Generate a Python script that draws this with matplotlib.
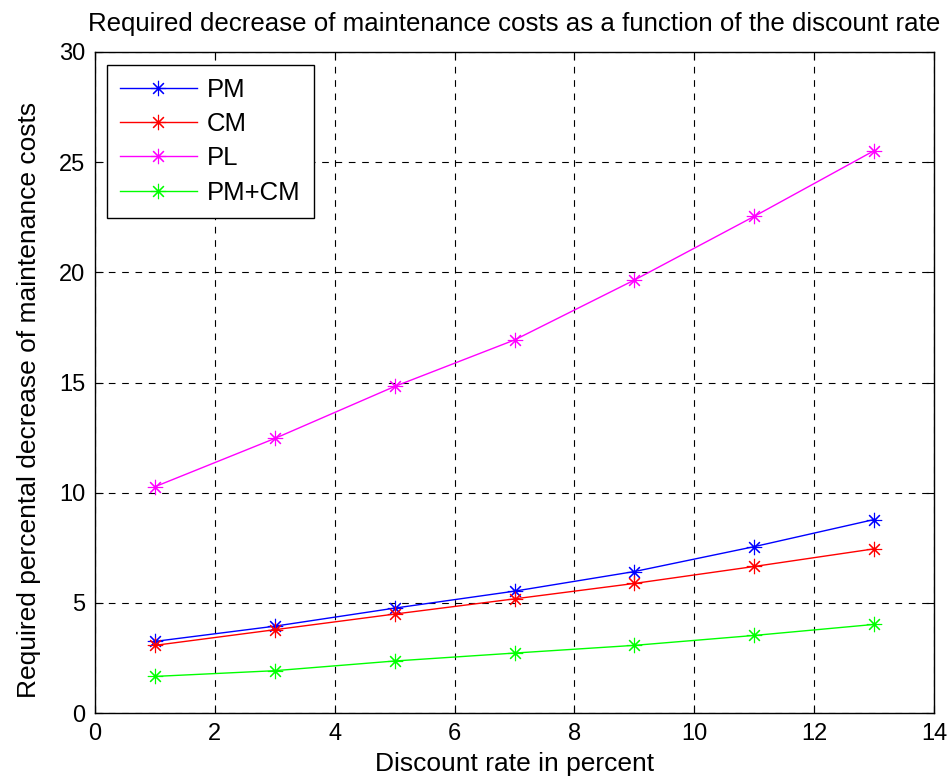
import matplotlib
matplotlib.use("Agg")
import matplotlib.pyplot as plt

rate = [1, 3, 5, 7, 9, 11, 13]
pm = [3.25, 3.94, 4.76, 5.53, 6.42, 7.55, 8.78]
cm = [3.07, 3.78, 4.49, 5.18, 5.88, 6.65, 7.45]
pl = [10.27, 12.46, 14.82, 16.93, 19.65, 22.54, 25.52]
pmcm = [1.66, 1.92, 2.36, 2.72, 3.07, 3.52, 4.02]
series_names = ["PM", "CM", "PL", "PM+CM"]
xticks = [0, 2, 4, 6, 8, 10, 12, 14]
yticks = [0, 5, 10, 15, 20, 25, 30]

plt.rcParams['font.family'] = ['Liberation Sans', 'DejaVu Sans']

fig = plt.figure(figsize=(9.51, 7.8), dpi=100)
ax = fig.add_axes([95/951, 1-713/780, (934-95)/951, (713-52)/780])

colors = ['#0000ff', '#ff0000', '#ff00ff', '#00ff00']
mk = (8, 2, 0)
for ys, c, name in zip([pm, cm, pl, pmcm], colors, series_names):
    ax.plot(rate, ys, color=c, lw=1.0, marker=mk, markersize=11, markeredgewidth=0.8,
            markeredgecolor=c, label=name)

ax.set_xlim(0, 14)
ax.set_ylim(0, 30)
ax.set_xticks(xticks)
ax.set_yticks(yticks)
ax.grid(True, color='black', linestyle=(0, (6, 6)), linewidth=0.8)
ax.tick_params(direction='in', top=True, right=True, length=6, labelsize=17, pad=7)
for s in ax.spines.values():
    s.set_color('black')
    s.set_linewidth(1.0)

ax.set_title("Required decrease of maintenance costs as a function of the discount rate",
             fontsize=18.6, pad=15)
ax.set_xlabel("Discount rate in percent", fontsize=19, labelpad=5)
ax.set_ylabel("Required percental decrease of maintenance costs", fontsize=19, labelpad=2)
ax.yaxis.set_label_coords(-0.064, 0.474)

leg = ax.legend(loc='upper left', bbox_to_anchor=(12/839, 1-13/661), borderaxespad=0,
                fontsize=18.5, fancybox=False, edgecolor='black', framealpha=1,
                handlelength=3.0, borderpad=0.5, labelspacing=0.4, handletextpad=0.4)
leg.get_frame().set_linewidth(1.0)

fig.savefig("out.png", dpi=100)
